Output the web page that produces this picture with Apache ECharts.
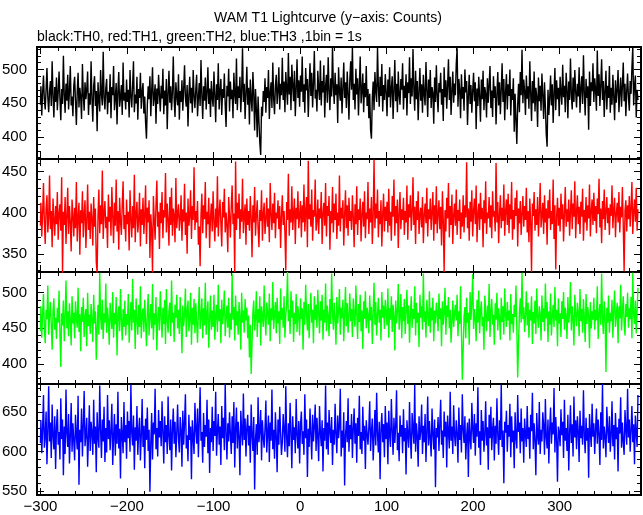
<!DOCTYPE html>
<html>
<head>
<meta charset="utf-8">
<script src="https://cdn.jsdelivr.net/npm/echarts@6/dist/echarts.min.js"></script>
<style>html,body{margin:0;padding:0;background:#fff;}#c{width:643px;height:515px;}</style>
</head>
<body>
<div id="c"></div>
<script>
// time of first bin (s), 1 bin = 1 s
const X0 = -300;
const titleText = 'WAM T1 Lightcurve (y\u2212axis: Counts)';
const subText = 'black:TH0, red:TH1, green:TH2, blue:TH3 ,1bin = 1s';

const th0 = [
448,475,432,466,491,455,441,470,502,459,437,468,483,446,512,461,429,474,452,488,
440,466,497,458,425,471,449,520,463,436,479,454,492,441,468,505,447,460,431,476,
489,452,418,467,495,444,473,459,427,508,462,439,481,456,470,497,433,465,448,512,
457,423,476,490,446,468,409,481,455,438,499,463,447,526,459,441,472,486,434,467,
451,493,428,474,462,505,440,457,480,419,468,496,445,459,477,433,510,454,466,441,
485,452,470,429,499,461,444,476,512,437,463,450,489,426,471,458,495,442,467,480,
435,460,421,398,448,475,456,490,431,467,503,446,459,478,420,472,449,492,463,438,
476,457,501,434,469,447,486,412,464,498,451,475,440,466,519,455,430,481,460,447,
493,426,468,452,484,439,471,506,458,445,477,416,462,489,450,473,436,499,461,443,
470,492,431,458,480,446,514,463,427,475,454,488,441,466,503,449,472,430,483,459,
445,497,462,422,478,455,509,441,468,486,433,471,458,494,447,415,476,460,501,438,
482,456,470,428,495,463,449,516,440,475,458,489,437,468,531,452,479,427,466,504,
448,473,419,485,457,438,496,464,410,471,442,400,460,423,392,374,445,431,468,452,
487,436,474,458,499,427,465,481,443,510,457,434,476,492,449,468,503,441,479,462,
517,455,482,437,496,471,448,524,463,489,440,507,476,453,498,431,470,515,458,484,
445,491,467,519,452,478,436,502,469,486,430,473,509,461,495,444,480,527,457,470,
438,498,472,455,513,447,483,466,506,429,475,492,451,518,469,440,487,460,534,473,
449,495,462,478,421,503,467,454,488,435,472,510,458,481,443,497,465,426,484,512,
470,533,455,479,441,501,463,487,432,475,519,450,468,494,437,480,459,505,446,471,
428,464,411,398,458,482,440,496,467,452,532,474,445,489,461,508,438,477,455,493,
466,431,485,459,503,444,472,490,427,468,514,453,479,437,497,462,448,486,470,509,
441,476,458,493,432,481,465,518,449,487,460,530,471,439,498,456,483,425,467,502,
454,478,436,492,463,447,511,470,430,485,458,499,443,474,465,420,488,452,506,461,
437,480,466,495,448,471,424,503,459,484,442,476,515,455,489,433,468,497,451,479,
462,508,531,445,486,470,428,493,457,474,439,500,466,483,418,461,492,449,477,436,
468,495,453,481,412,472,446,489,460,423,485,456,498,440,474,464,429,487,451,477,
505,443,469,430,490,458,475,419,463,496,447,481,434,470,509,452,486,425,467,493,
441,478,461,500,432,471,455,487,408,464,426,390,448,479,437,496,462,529,450,485,
468,433,491,457,475,442,512,466,424,483,450,497,438,473,460,415,488,453,476,439,
494,462,427,481,445,405,386,470,433,458,491,447,478,421,465,502,440,484,456,473,
431,489,466,448,507,459,476,437,495,470,428,482,455,516,463,441,488,452,499,467,
444,479,460,503,436,472,490,449,521,465,432,486,458,475,411,497,446,481,468,509,
452,487,470,439,528,461,493,446,477,515,455,483,430,469,498,441,476,458,505,436,
473,448,492,460,425,484,451,470,499,437,466,488,445,476,510,453,479,431,468,494,
458,439,483,464,502,533,447,476,491,429,470,455
];

const th1 = [
384,412,371,398,436,389,362,405,421,376,393,445,380,402,358,417,391,372,408,386,
425,367,399,410,378,443,326,401,385,419,362,395,430,374,408,388,353,416,397,371,
406,381,437,365,394,412,349,403,387,426,370,398,415,357,390,434,379,401,368,411,
392,360,419,383,405,340,327,396,428,375,409,386,451,368,400,414,381,395,357,422,
389,407,372,431,396,363,412,384,440,377,402,355,418,390,373,409,438,380,397,365,
416,386,401,354,427,393,370,408,381,446,364,399,413,376,391,424,359,404,385,418,
374,397,433,362,406,388,415,345,398,379,327,420,392,367,409,439,383,401,356,412,
387,425,369,403,394,448,376,411,391,360,419,385,430,372,405,396,364,442,381,399,
410,378,393,421,366,404,389,435,373,400,350,417,384,396,427,368,408,391,455,379,
402,388,414,361,383,335,397,423,375,409,392,437,369,401,386,418,357,395,411,377,
426,390,365,405,382,444,371,398,416,387,359,413,394,429,376,400,384,352,419,396,
370,408,433,386,399,328,462,379,412,393,423,368,404,389,441,375,397,410,361,417,
385,402,378,420,394,346,409,388,431,372,396,415,381,358,403,390,427,366,399,412,
374,392,418,383,405,364,436,398,379,411,387,424,369,400,393,415,380,408,357,396,
421,385,402,376,330,413,391,447,372,404,388,432,379,398,417,362,406,392,426,381,
397,414,370,409,388,434,377,401,419,358,463,392,410,383,428,366,403,395,440,378,
389,416,374,405,393,425,362,399,412,384,436,371,408,396,420,355,402,387,431,376,
411,391,423,368,400,384,445,377,406,393,415,360,397,427,381,409,372,418,390,402,
379,421,395,358,410,386,432,373,404,391,417,365,398,413,383,426,369,400,392,437,
374,405,388,419,362,396,464,381,411,393,428,370,402,386,415,359,398,423,377,407,
390,413,376,429,384,401,366,420,395,440,372,408,387,416,357,398,425,380,404,391,
418,373,402,388,433,367,410,394,421,378,400,443,385,407,362,414,391,426,374,398,
406,382,419,363,397,411,387,430,371,404,392,417,379,401,425,366,409,386,432,375,
399,415,380,407,360,426,391,328,403,377,418,393,436,370,408,385,422,362,397,411,
384,428,373,403,390,416,368,400,383,421,376,409,394,461,381,405,366,413,389,427,
371,402,417,386,433,364,398,411,379,424,392,406,358,415,387,438,374,400,393,419,
382,409,369,426,395,402,377,460,388,413,363,398,421,381,406,390,434,372,401,416,
385,423,375,410,392,437,367,403,380,418,396,427,359,405,387,414,373,399,420,383,
408,391,430,376,402,364,417,389,328,411,396,425,378,404,385,419,371,400,436,382,
397,412,374,421,388,405,361,415,393,428,379,402,386,440,368,409,331,396,418,384,
406,377,423,392,410,365,399,431,383,404,389,416,372,401,427,380,411,395,438,369,
400,421,386,407,374,413,395,429,366,403,388,419,378,409,393,434,371,402,416,385,
424,390,408,375,417,398,441,382,405,363,414,392,428,379,401,419,387,406,373,410,
396,433,381,403,418,370,399,412,388,425,376,407,394,431,384,329,402,415,377,409,
392,420,383,406,437,374,401,416,389,430,378,404
];

const th2 = [
446,481,437,470,498,452,429,476,463,510,441,468,487,455,420,474,492,448,465,435,
479,458,503,443,396,471,454,489,432,466,517,450,474,439,485,461,426,495,457,472,
436,488,463,451,507,445,470,418,480,459,493,438,466,477,425,500,453,469,442,484,
462,431,497,457,474,406,450,483,441,528,466,448,490,435,471,458,513,444,479,460,
427,486,465,449,501,437,472,456,494,412,468,481,446,505,461,433,477,452,489,440,
470,455,498,430,464,487,447,519,458,476,421,492,463,441,483,452,509,436,469,478,
445,490,459,425,473,498,440,466,484,450,512,434,471,455,494,419,463,480,447,502,
468,437,479,456,490,428,505,461,444,475,486,439,517,458,472,431,483,465,497,450,
476,442,494,460,415,482,453,469,506,438,474,489,446,462,500,427,479,455,491,443,
485,459,430,473,508,449,466,492,436,478,454,514,441,470,488,423,463,496,448,475,
452,497,434,468,483,445,511,460,477,429,490,456,472,503,439,465,482,451,493,437,
471,448,527,462,480,433,496,454,474,441,487,466,420,500,458,475,444,491,461,479,
436,468,409,455,386,430,473,489,447,464,502,438,477,458,495,426,481,466,452,510,
463,440,486,471,455,499,432,478,461,515,449,470,487,443,493,457,474,428,506,462,
479,451,495,437,468,483,529,460,476,442,502,465,489,431,472,456,498,445,481,467,
440,492,463,478,420,487,455,511,469,447,484,436,473,500,458,476,429,495,462,483,
451,504,470,443,488,461,497,434,476,458,513,446,482,467,439,491,456,527,472,448,
486,463,427,494,457,474,505,441,479,464,490,432,471,508,453,485,444,468,499,460,
477,438,492,466,452,510,470,435,484,459,497,446,475,421,488,463,502,450,479,468,
443,496,461,480,428,472,514,455,487,440,469,493,458,476,433,501,465,482,449,490,
471,454,506,437,478,462,495,445,483,468,419,489,457,474,512,448,466,498,436,480,
460,491,442,473,504,456,482,430,469,495,451,477,463,509,440,486,458,472,424,497,
465,481,448,527,459,474,437,490,468,453,502,444,479,461,493,432,475,457,486,470,
446,499,463,478,425,488,455,472,507,441,482,466,494,450,476,430,460,489,452,471,
483,461,497,439,474,456,509,445,378,421,467,480,436,493,458,472,427,501,462,485,
526,449,477,464,432,490,458,503,443,475,488,453,466,420,496,471,446,482,460,512,
438,474,491,455,469,427,485,462,500,447,478,465,434,493,459,481,441,506,468,452,
487,461,475,433,498,456,470,444,483,466,510,450,381,429,472,492,458,528,463,480,
445,469,502,454,486,437,476,461,495,428,473,457,489,442,506,466,451,481,470,433,
496,459,478,446,513,464,487,431,474,455,499,440,467,483,452,508,461,476,425,492,
457,471,438,488,463,501,448,479,466,435,494,458,472,515,447,481,462,426,497,469,
453,486,472,439,505,460,477,444,491,465,431,498,456,480,468,422,487,450,474,462,
493,448,476,461,509,435,470,484,455,527,463,442,488,467,389,479,458,496,444,472,
460,490,437,475,503,452,469,486,429,481,464,511,447,473,495,458,440,484,466,500,
451,478,463,494,436,528,470,456,489,443,475,507
];

const th3 = [
611,640,598,629,672,605,618,651,584,626,683,613,637,592,660,620,603,645,578,631,
654,609,625,590,668,616,641,570,632,597,679,623,606,648,585,619,662,600,636,614,
589,647,621,603,671,558,628,612,655,594,633,677,607,622,643,581,617,659,601,638,
624,596,666,610,632,574,650,618,605,684,627,592,641,613,657,587,630,599,672,616,
640,602,627,661,583,619,648,595,635,610,676,604,629,566,644,621,598,663,612,634,
591,651,617,639,600,685,623,608,646,577,631,614,658,596,626,643,589,620,667,606,
633,579,642,615,656,601,628,549,611,649,590,637,622,680,603,630,594,653,618,639,
607,664,625,585,645,612,634,597,670,619,602,641,576,628,655,610,638,593,624,660,
616,599,644,627,581,652,609,636,673,604,621,588,647,615,632,565,640,618,597,662,
628,610,655,593,637,682,614,625,586,649,606,634,619,666,598,641,573,630,612,657,
601,639,620,676,595,627,648,609,632,583,658,617,643,602,686,624,590,636,613,650,
622,597,645,611,663,580,629,656,604,638,619,570,652,626,608,674,615,642,594,631,
647,608,633,586,660,621,601,644,552,616,635,596,669,612,627,653,589,640,618,605,
630,665,599,623,646,587,637,614,679,603,628,591,650,620,574,641,609,657,625,596,
612,648,627,600,683,618,593,636,607,662,624,579,645,615,631,598,667,621,604,639,
585,634,651,610,626,596,673,617,641,568,629,606,655,622,590,647,613,632,660,601,
643,619,588,658,624,607,640,575,630,614,684,603,637,596,653,626,611,644,583,628,
609,661,622,598,646,617,632,680,594,627,605,650,557,621,639,612,668,600,634,616,
648,592,629,655,610,636,586,643,620,671,603,625,597,657,614,633,578,640,623,609,
631,664,601,626,642,589,618,653,608,675,622,599,638,565,629,649,612,635,593,658,
616,637,584,652,621,606,667,627,596,643,611,632,678,602,624,588,646,619,634,598,
654,613,630,571,640,622,605,663,617,591,649,628,610,685,600,636,620,581,645,615,
626,660,597,633,612,648,587,624,670,608,639,616,594,655,623,603,641,555,630,618,
644,601,635,666,609,627,592,651,619,638,580,646,625,604,676,614,632,597,659,621,
607,640,623,586,656,615,634,599,673,628,611,645,590,620,637,568,642,618,603,662,
629,611,648,595,636,619,682,605,626,583,653,614,639,600,622,664,608,631,577,647,
617,657,602,628,643,589,633,610,668,621,596,640,615,685,606,627,560,638,624,652,
600,634,619,661,593,645,612,627,579,650,618,604,672,625,637,598,655,613,630,586,
642,622,606,658,616,631,591,647,626,675,603,636,614,570,649,620,609,663,597,628,
613,650,633,596,667,618,604,641,585,629,656,610,637,622,681,599,644,616,562,632,
625,607,654,621,638,592,666,614,630,601,647,576,623,659,611,635,594,670,618,640,
603,645,626,587,652,617,633,609,678,621,598,643,614,630,567,648,624,606,661,619,
636,597,628,655,610,641,622,583,650,615,686,604,632,619,593,657,627,611,645,600,
620,664,607,634,590,649,616,631,575,642,623,669,605,637,612,596,653,628,609,680,
618,641,600,627,658,612,635,584,646,624,606,672
];

const seriesColors = ['#000000', '#ff0000', '#00ff00', '#0000ff'];
const seriesNames = ['TH0', 'TH1', 'TH2', 'TH3'];
const seriesData = [th0, th1, th2, th3];

const xRange = [-304, 394];
const xMajor = [-300, -200, -100, 0, 100, 200, 300];
const xMinor = [-300,-280,-260,-240,-220,-200,-180,-160,-140,-120,-100,-80,-60,-40,-20,0,20,40,60,80,100,120,140,160,180,200,220,240,260,280,300,320,340,360,380];

const yRanges = [[368, 533], [328, 465], [372, 529], [545, 686]];
const yMajor = [[400, 450, 500], [350, 400, 450], [400, 450, 500], [550, 600, 650]];
const yMinor = [
  [370,380,390,400,410,420,430,440,450,460,470,480,490,500,510,520,530],
  [330,340,350,360,370,380,390,400,410,420,430,440,450,460],
  [380,390,400,410,420,430,440,450,460,470,480,490,500,510,520],
  [550,560,570,580,590,600,610,620,630,640,650,660,670,680]
];

// layout
const gridTops = [47, 159, 272, 384];
const gridHeights = [112, 113, 112, 111];
const FONT = 'Liberation Sans, Arial, Helvetica, sans-serif';

const grids = [], xAxes = [], yAxes = [], series = [];
for (let p = 0; p < 4; p++) {
  grids.push({
    left: 37, right: 2, top: gridTops[p], height: gridHeights[p],
    show: true, borderColor: '#000', borderWidth: 2, backgroundColor: 'transparent',
    containLabel: false, outerBoundsMode: 'none'
  });
  const xBase = xAxes.length;
  [['bottom', 7, xMajor, p === 3], ['bottom', 4, xMinor, false], ['top', 7, xMajor, false], ['top', 4, xMinor, false]].forEach(([pos, len, vals, lab]) => {
    xAxes.push({
      type: 'value', gridIndex: p, position: pos, min: xRange[0], max: xRange[1],
      axisLine: { show: false, onZero: false }, splitLine: { show: false },
      axisTick: { show: true, inside: true, length: len, customValues: vals, lineStyle: { color: '#000', width: 1 } },
      axisLabel: {
        show: lab, customValues: xMajor, margin: 4, color: '#000', fontSize: 15, fontFamily: FONT,
        formatter: v => String(v).replace('-', '\u2212')
      }
    });
  });
  const yBase = yAxes.length;
  [['left', 7, yMajor[p], true], ['left', 4, yMinor[p], false], ['right', 7, yMajor[p], false], ['right', 4, yMinor[p], false]].forEach(([pos, len, vals, lab]) => {
    yAxes.push({
      type: 'value', gridIndex: p, position: pos, min: yRanges[p][0], max: yRanges[p][1],
      axisLine: { show: false, onZero: false }, splitLine: { show: false },
      axisTick: { show: true, inside: true, length: len, customValues: vals, lineStyle: { color: '#000', width: 1 } },
      axisLabel: { show: lab, customValues: yMajor[p], margin: 10, color: '#000', fontSize: 15, fontFamily: FONT }
    });
  });
  series.push({
    name: seriesNames[p], type: 'line', xAxisIndex: xBase, yAxisIndex: yBase,
    data: seriesData[p].map((v, i) => [X0 + i, v]),
    showSymbol: false, symbol: 'none', step: 'middle', clip: true, sampling: null,
    lineStyle: { color: seriesColors[p], width: 1.4 }, itemStyle: { color: seriesColors[p] },
    animation: false
  });
}

const chart = echarts.init(document.getElementById('c'), null, { renderer: 'canvas' });
chart.setOption({
  animation: false,
  backgroundColor: '#fff',
  title: [
    { text: titleText, left: 209, top: 6, textStyle: { fontSize: 14, fontWeight: 'normal', color: '#000', fontFamily: FONT } },
    { text: subText, left: 32, top: 25, textStyle: { fontSize: 14, fontWeight: 'normal', color: '#000', fontFamily: FONT } }
  ],
  grid: grids,
  xAxis: xAxes,
  yAxis: yAxes,
  series: series
});
</script>
</body>
</html>
